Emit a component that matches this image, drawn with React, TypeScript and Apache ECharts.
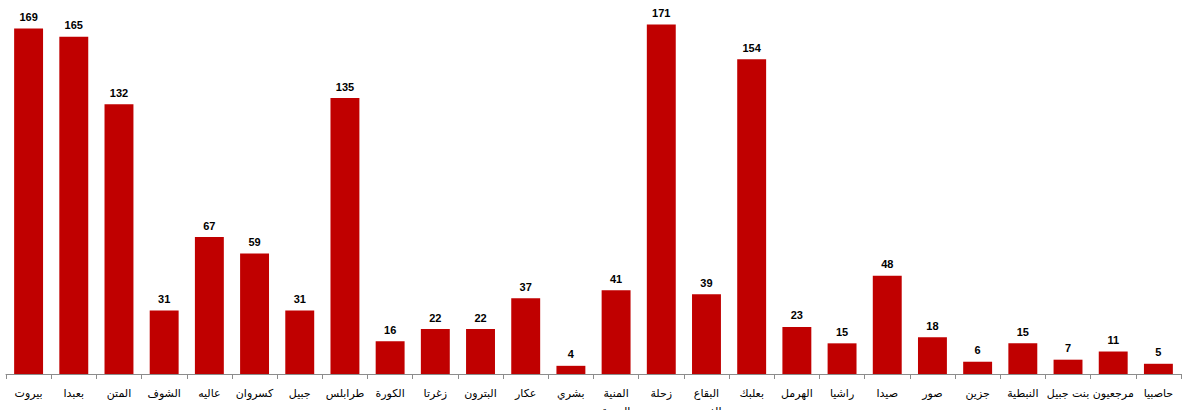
import React, { useEffect, useRef } from "react";
import * as echarts from "echarts";

const categories = [
  "بيروت", "بعبدا", "المتن", "الشوف", "عاليه", "كسروان", "جبيل", "طرابلس", "الكورة", "زغرتا",
  "البترون", "عكار", "بشري", "المنية\nالضنية", "زحلة", "البقاع\nالغربي", "بعلبك", "الهرمل", "راشيا", "صيدا",
  "صور", "جزين", "النبطية", "بنت جبيل", "مرجعيون", "حاصبيا",
];
const values = [
  169, 165, 132, 31, 67, 59, 31, 135, 16, 22,
  22, 37, 4, 41, 171, 39, 154, 23, 15, 48,
  18, 6, 15, 7, 11, 5,
];

export default function App() {
  const ref = useRef<HTMLDivElement>(null);
  useEffect(() => {
    const chart = echarts.init(ref.current!, null, { renderer: "svg" });
    chart.setOption({
      animation: false,
      grid: { left: 6, right: 4, top: 6, bottom: 36, containLabel: false, outerBoundsMode: "none" },
      xAxis: {
        type: "category",
        data: categories,
        axisLine: { lineStyle: { color: "#8c8c8c", width: 1 } },
        axisTick: { show: true, length: 5, lineStyle: { color: "#8c8c8c" } },
        axisLabel: {
          interval: 0,
          color: "#000",
          fontSize: 11,
          fontFamily: "DejaVu Sans",
          margin: 10,
          lineHeight: 18,
        },
      },
      yAxis: {
        type: "value",
        min: 0,
        max: 180,
        show: false,
        splitLine: { show: false },
      },
      series: [
        {
          type: "bar",
          data: values,
          barCategoryGap: "36%",
          itemStyle: { color: "#c00000" },
          label: {
            show: true,
            position: "top",
            distance: 6,
            color: "#000",
            fontWeight: "bold",
            fontSize: 11,
            fontFamily: "Liberation Sans",
          },
        },
      ],
    });
    return () => chart.dispose();
  }, []);
  return (
    <div
      ref={ref}
      style={{ position: "fixed", left: 0, top: 0, width: 1185, height: 410, background: "#fff" }}
    />
  );
}
